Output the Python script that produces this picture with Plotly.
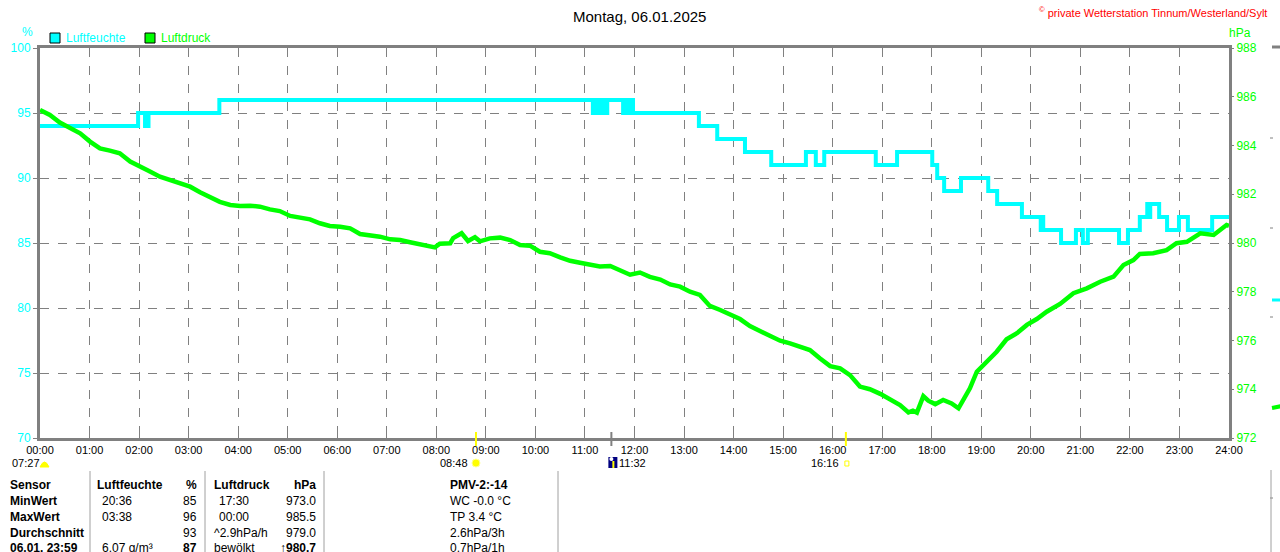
import plotly.graph_objects as go

# Luftfeuchte (%), step values: hour of change -> new value
hum_hours = [0.00, 1.98, 2.12, 2.19, 3.62,
             11.16, 11.21, 11.25, 11.33, 11.37, 11.45,
             11.77, 11.83, 11.88, 11.93, 11.97,
             13.30, 13.67, 14.23, 14.76, 15.46, 15.66, 15.83,
             16.87, 17.30, 18.01, 18.11, 18.25, 18.59, 19.14, 19.32,
             19.82, 20.20, 20.23, 20.25, 20.61, 20.91, 21.05, 21.15,
             21.78, 21.96, 22.20, 22.35, 22.38, 22.41, 22.59, 22.75,
             22.99, 23.17, 23.66, 24.00]
hum_vals = [94, 95, 94, 95, 96,
            95, 96, 95, 96, 95, 96,
            95, 96, 95, 96, 95,
            94, 93, 92, 91, 92, 91, 92,
            91, 92, 91, 90, 89, 90, 89, 88,
            87, 86, 87, 86, 85, 86, 85, 86,
            85, 86, 87, 88, 87, 88, 87, 86,
            87, 86, 87, 87]

# Luftdruck (hPa)
press_hours = [0.00, 0.20, 0.40, 0.61, 0.81, 1.01, 1.21, 1.41, 1.61, 1.82,
               2.02, 2.22, 2.42, 2.62, 2.83, 3.03, 3.23, 3.43, 3.63, 3.84,
               4.04, 4.24, 4.44, 4.64, 4.84, 5.05, 5.25, 5.45, 5.65, 5.85,
               6.06, 6.26, 6.46, 6.66, 6.86, 7.07, 7.27, 7.47, 7.67, 7.87,
               7.97, 8.07, 8.28, 8.34, 8.51, 8.64, 8.78, 8.88, 9.08, 9.29,
               9.49, 9.69, 9.89, 10.09, 10.29, 10.50, 10.70, 10.90, 11.10, 11.30,
               11.51, 11.71, 11.91, 12.11, 12.31, 12.52, 12.72, 12.92, 13.12, 13.32,
               13.52, 13.73, 13.93, 14.13, 14.33, 14.53, 14.74, 14.94, 15.14, 15.34,
               15.54, 15.74, 15.95, 16.15, 16.35, 16.55, 16.75, 16.96, 17.16, 17.36,
               17.53, 17.62, 17.70, 17.83, 17.93, 18.07, 18.23, 18.40, 18.54, 18.64,
               18.77, 18.91, 19.11, 19.31, 19.51, 19.72, 19.92, 20.12, 20.32, 20.59,
               20.86, 21.13, 21.40, 21.67, 21.87, 22.07, 22.20, 22.47, 22.74, 22.94,
               23.15, 23.42, 23.69, 23.95, 24.00]
press_vals = [985.46, 985.25, 984.94, 984.70, 984.50, 984.16, 983.88, 983.79, 983.68, 983.34,
              983.16, 982.93, 982.72, 982.58, 982.42, 982.31, 982.08, 981.87, 981.69, 981.56,
              981.52, 981.53, 981.49, 981.38, 981.31, 981.11, 981.05, 980.97, 980.81, 980.70,
              980.67, 980.60, 980.37, 980.33, 980.26, 980.15, 980.12, 980.03, 979.96, 979.90,
              979.82, 979.97, 979.99, 980.20, 980.40, 980.08, 980.24, 980.07, 980.19, 980.22,
              980.12, 979.92, 979.89, 979.64, 979.58, 979.41, 979.27, 979.19, 979.10, 979.04,
              979.06, 978.89, 978.70, 978.79, 978.61, 978.50, 978.30, 978.21, 978.00, 977.87,
              977.42, 977.25, 977.05, 976.88, 976.59, 976.40, 976.18, 975.99, 975.88, 975.75,
              975.61, 975.27, 974.95, 974.86, 974.58, 974.11, 974.00, 973.81, 973.59, 973.35,
              973.05, 973.12, 973.04, 973.72, 973.53, 973.39, 973.56, 973.42, 973.22, 973.56,
              974.04, 974.72, 975.13, 975.54, 976.05, 976.30, 976.64, 976.88, 977.18, 977.50,
              977.94, 978.14, 978.41, 978.62, 979.10, 979.30, 979.55, 979.58, 979.71, 979.99,
              980.05, 980.40, 980.33, 980.74, 980.70]

hour_labels = [f"{h:02d}:00" for h in range(25)]

# sun events
dawn = "07:27"
sunrise = "08:48"
noon = "11:32"
sunset = "16:16"

# table below the chart
row_labels = ["Sensor", "MinWert", "MaxWert", "Durchschnitt", "06.01. 23:59"]
hum_times = ["Luftfeuchte", "20:36", "03:38", "", "6.07 g/m³"]
hum_stats = ["%", "85", "96", "93", "87"]
press_times = ["Luftdruck", "17:30", "00:00", "^2.9hPa/h", "bewölkt"]
press_stats = ["hPa", "973.0", "985.5", "979.0", "↑980.7"]
extra_stats = ["PMV-2:-14", "WC -0.0 °C", "TP 3.4 °C", "2.6hPa/3h", "0.7hPa/1h"]

CYAN = "#00FFFF"
GREEN = "#00FF00"
YELLOW = "#FFFF00"
GREY = "#808080"
FONT = "Liberation Sans"

# plot area in pixels
L, R, T, B = 40, 1229, 48, 438


def px(x):
    return (x - L) / (R - L)


def py(y):
    return (B - y) / (B - T)


def hours(s):
    h, m = s.split(":")
    return int(h) + int(m) / 60


fig = go.Figure()
fig.add_trace(go.Scatter(x=hum_hours, y=hum_vals, mode="lines", name="Luftfeuchte",
                         line=dict(color=CYAN, width=4, shape="hv"), yaxis="y"))
fig.add_trace(go.Scatter(x=press_hours, y=press_vals, mode="lines", name="Luftdruck",
                         line=dict(color=GREEN, width=4.5), yaxis="y2"))

fig.update_layout(
    width=1280, height=552,
    margin=dict(l=L, r=1280 - R, t=T, b=552 - B),
    paper_bgcolor="white", plot_bgcolor="white",
    showlegend=False,
    font=dict(family=FONT, size=12, color="black"),
    xaxis=dict(range=[0, 24], tickvals=list(range(25)), ticktext=hour_labels,
               showgrid=True, gridcolor=GREY, griddash="dash", gridwidth=1,
               showline=True, linecolor=GREY, linewidth=3, mirror=True,
               ticks="inside", ticklen=5, tickcolor=GREY, zeroline=False,
               tickfont=dict(size=11, color="black")),
    yaxis=dict(range=[70, 100], dtick=5, showgrid=True, gridcolor=GREY, griddash="dash",
               showline=True, linecolor=GREY, linewidth=3, mirror=True,
               ticks="outside", ticklen=4, tickcolor=GREY, zeroline=False,
               tickfont=dict(size=12, color=CYAN)),
    yaxis2=dict(range=[972, 988], dtick=2, overlaying="y", side="right", showgrid=False,
                ticks="outside", ticklen=4, tickcolor=GREY, zeroline=False,
                tickfont=dict(size=12, color=GREEN)),
)

ann = []
shapes = []


def text(s, x, y, anchor="center", size=12, color="black", xref="paper", xshift=0):
    if not s:
        return
    ann.append(dict(text=s, x=x, y=py(y), xref=xref, yref="paper", xanchor=anchor,
                    yanchor="middle", xshift=xshift, showarrow=False,
                    font=dict(size=size, color=color)))


text("Montag, 06.01.2025", px(639), 16, size=15)
text("<sup>©</sup> private Wetterstation Tinnum/Westerland/Sylt", px(1269), 12,
     anchor="right", size=11, color="red")
text("%", px(27), 32, color=CYAN)
text("hPa", px(1240), 33, color=GREEN)

# legend squares
for x0, color, name in [(50, CYAN, "Luftfeuchte"), (145, GREEN, "Luftdruck")]:
    shapes.append(dict(type="rect", xref="paper", yref="paper", x0=px(x0), x1=px(x0 + 10),
                       y0=py(43), y1=py(33), fillcolor=color, line=dict(color="black", width=1)))
    text(name, px(x0 + 14), 38, anchor="left", size=12, color=color)

# sun markers on the time axis
for t, color in [(sunrise, YELLOW), (sunset, YELLOW), (noon, GREY)]:
    shapes.append(dict(type="line", xref="x", yref="paper", x0=hours(t), x1=hours(t),
                       ysizemode="pixel", yanchor=0, y0=-8, y1=6,
                       line=dict(color=color, width=2)))

text(dawn, px(10), 463, anchor="left", size=11)
shapes.append(dict(type="path", xref="paper", yref="paper",
                   path=f"M {px(40)},{py(467)} Q {px(44.5)},{py(457)} {px(49)},{py(467)} Z",
                   fillcolor=YELLOW, line=dict(color=YELLOW, width=1)))
text(sunrise, hours(sunrise), 463, anchor="right", size=11, xref="x", xshift=-6)
shapes.append(dict(type="circle", xref="x", yref="paper", xsizemode="pixel", ysizemode="pixel",
                   xanchor=hours(sunrise), yanchor=0, x0=-4, x1=4, y0=-29, y1=-21,
                   fillcolor=YELLOW, line=dict(color="#FFFF99", width=1)))
shapes.append(dict(type="rect", xref="x", yref="paper", xsizemode="pixel", ysizemode="pixel",
                   xanchor=hours(noon), yanchor=0, x0=-3, x1=6, y0=-30, y1=-19,
                   fillcolor="#000080", line=dict(width=0)))
shapes.append(dict(type="line", xref="x", yref="paper", xsizemode="pixel", ysizemode="pixel",
                   xanchor=hours(noon), yanchor=0, x0=2, x1=2, y0=-30, y1=-23,
                   line=dict(color=YELLOW, width=2)))
shapes.append(dict(type="circle", xref="x", yref="paper", xsizemode="pixel", ysizemode="pixel",
                   xanchor=hours(noon), yanchor=0, x0=-2, x1=2, y0=-23, y1=-19,
                   fillcolor="white", line=dict(width=0)))
text(noon, hours(noon), 463, anchor="left", size=11, xref="x", xshift=6)
text(sunset, hours(sunset), 463, anchor="right", size=11, xref="x", xshift=-5)
shapes.append(dict(type="rect", xref="x", yref="paper", xsizemode="pixel", ysizemode="pixel",
                   xanchor=hours(sunset), yanchor=0, x0=-1, x1=3, y0=-28, y1=-23,
                   fillcolor="white", line=dict(color=YELLOW, width=1)))

# table
row_y = [485, 501, 517, 533, 548]


def cell(s, x, y, anchor="left", bold=False):
    if bold and s:
        s = f"<b>{s}</b>"
    text(s, px(x), y, anchor=anchor)


for i, y in enumerate(row_y):
    head = i == 0
    cell(row_labels[i], 8, y, bold=True)
    cell(hum_times[i], 95 if head else 100, y, bold=head)
    cell(hum_stats[i], 199, y, anchor="right", bold=head or i == 4)
    cell(press_times[i], 212 if head or i >= 3 else 217, y, bold=head)
    cell(press_stats[i], 318, y, anchor="right", bold=head or i == 4)
    cell(extra_stats[i], 448, y, bold=head)

for x in [90, 205, 324, 558]:
    shapes.append(dict(type="line", xref="paper", yref="paper", x0=px(x), x1=px(x),
                       y0=py(471), y1=py(560), line=dict(color="#A0A0A0", width=1)))

# edge of the neighbouring chart
shapes.append(dict(type="line", xref="paper", yref="paper", x0=px(1272), x1=px(1282),
                   y0=py(47), y1=py(47), line=dict(color=GREY, width=3)))
for y in [138, 228, 317, 498]:
    shapes.append(dict(type="line", xref="paper", yref="paper", x0=px(1270), x1=px(1276),
                       y0=py(y), y1=py(y), line=dict(color=GREY, width=1, dash="dot")))
shapes.append(dict(type="line", xref="paper", yref="paper", x0=px(1272), x1=px(1282),
                   y0=py(300), y1=py(300), line=dict(color=CYAN, width=3)))
shapes.append(dict(type="line", xref="paper", yref="paper", x0=px(1272), x1=px(1282),
                   y0=py(408), y1=py(406), line=dict(color=GREEN, width=4)))
shapes.append(dict(type="line", xref="paper", yref="paper", x0=px(1271), x1=px(1271),
                   y0=py(470), y1=py(560), line=dict(color="#A0A0A0", width=1)))

fig.update_layout(annotations=ann, shapes=shapes)

fig.write_html("out.html", config={"displayModeBar": False},
               post_script="document.body.style.margin='0px';")
